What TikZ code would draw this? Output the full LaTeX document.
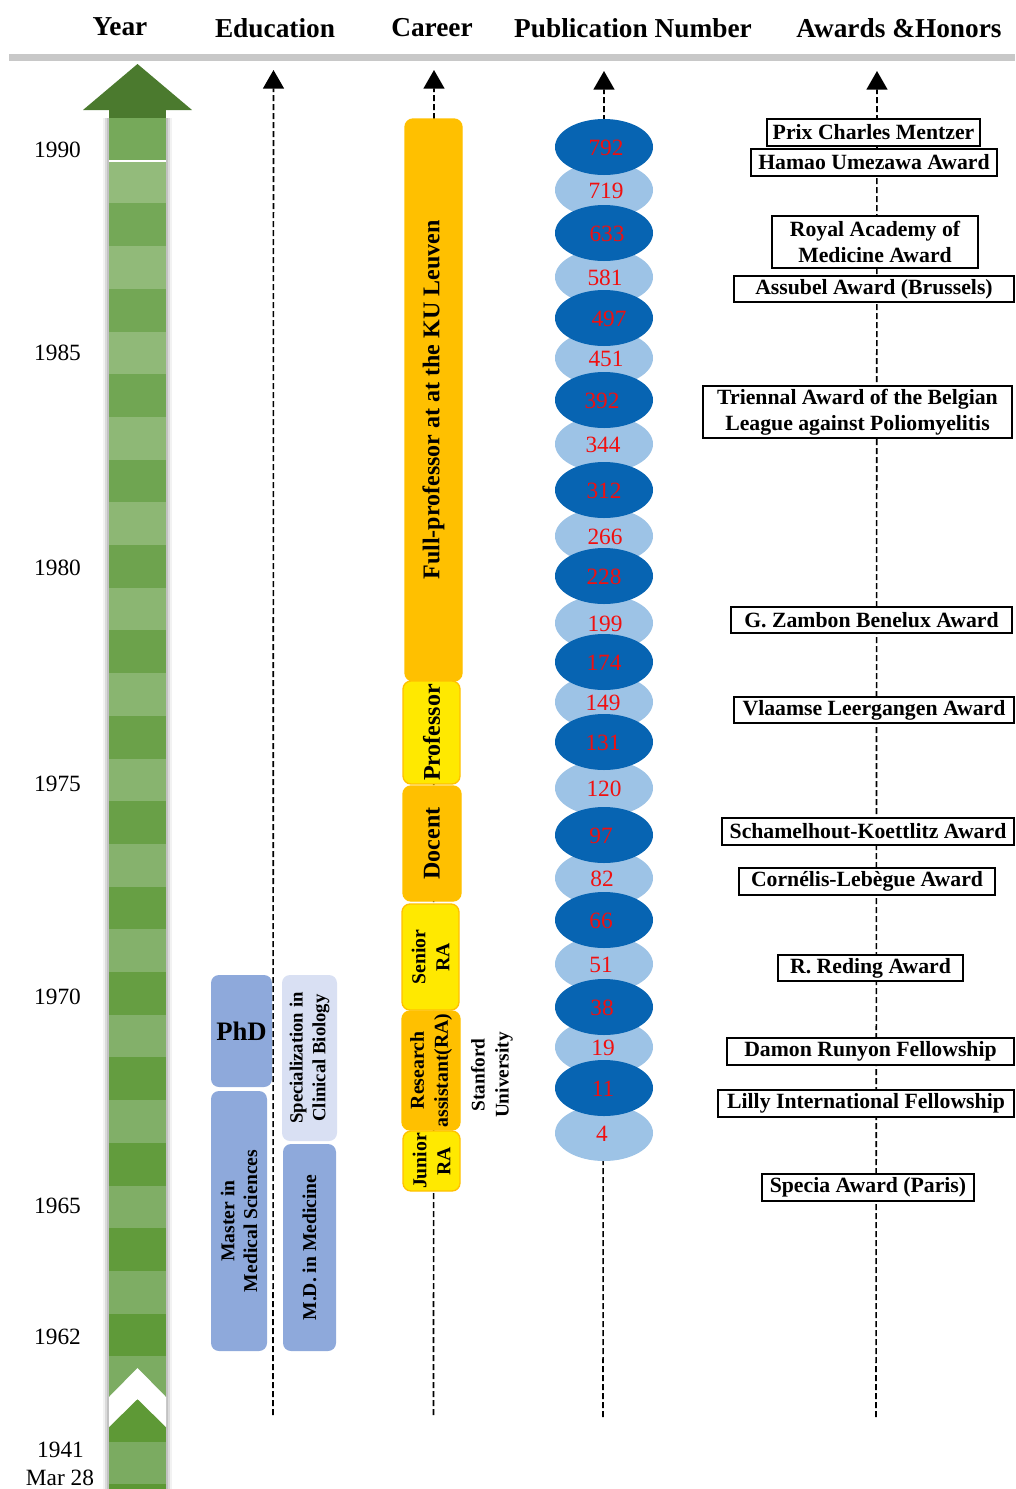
\documentclass[tikz,border=0pt]{standalone}
\usepackage{fontspec}
\setmainfont{Liberation Serif}
\usetikzlibrary{arrows.meta,shapes.geometric}
\definecolor{hdrgray}{HTML}{C8C8C8}
\definecolor{arrowgreen}{HTML}{4B7A2E}
\definecolor{dTop}{RGB}{118,169,90}
\definecolor{dBot}{RGB}{92,152,52}
\definecolor{lTop}{RGB}{148,188,124}
\definecolor{lBot}{RGB}{122,170,96}
\definecolor{eduBlue}{HTML}{8EA9DB}
\definecolor{eduLight}{HTML}{D9E0F3}
\definecolor{carOrange}{HTML}{FFC000}
\definecolor{carYellow}{HTML}{FFE900}
\definecolor{pubDark}{HTML}{0764B2}
\definecolor{pubLight}{HTML}{9DC3E6}
\definecolor{numRed}{HTML}{F01010}
\newcommand\placebox[7]{\node[#1, minimum width={(#5-#3)*0.75pt}, minimum height={(#6-#4)*0.75pt}] (#2) at ({(#3+#5)/2},{(#4+#6)/2}) {#7};}
\newcommand\placevbox[7]{\node[#1, rotate=90, minimum width={(#6-#4)*0.75pt}, minimum height={(#5-#3)*0.75pt}] (#2) at ({(#3+#5)/2},{(#4+#6)/2}) {#7};}
\begin{document}
\begin{tikzpicture}[x=0.75pt,y=-0.75pt,
  hdr/.style={font=\bfseries\fontsize{20.5}{24}\selectfont, inner sep=0pt},
  yr/.style={font=\fontsize{17.5}{20}\selectfont, inner sep=0pt},
  axisline/.style={line width=1.2pt, dash pattern=on 4.5pt off 2.25pt, -{Triangle[length=14pt,width=15.75pt]}},
  edu/.style={fill=eduBlue, rounded corners=6pt, inner sep=0pt, align=center, font=\bfseries\fontsize{14.7}{17}\selectfont},
  edul/.style={edu, fill=eduLight, font=\bfseries\fontsize{14}{17}\selectfont},
  caro/.style={fill=carOrange, draw=carOrange, line width=1pt, rounded corners=6pt, inner sep=0pt, align=center, font=\bfseries\fontsize{18}{20}\selectfont},
  cary/.style={caro, fill=carYellow},
  carsmall/.style={font=\bfseries\fontsize{14.8}{18}\selectfont},
  pubD/.style={ellipse, fill=pubDark, minimum width=98*0.75pt, minimum height=56*0.75pt, inner sep=0pt},
  pubL/.style={pubD, fill=pubLight},
  publab/.style={text=numRed, font=\fontsize{17.5}{20}\selectfont, inner sep=0pt},
  award/.style={draw=black, line width=1.1pt, fill=white, inner sep=0pt, align=center, font=\bfseries\fontsize{16.3}{19.5}\selectfont}
]
\useasboundingbox (0,0) rectangle (1015,1489);

% headers
\node[hdr] (hYear) at (120,27) {Year};
\node[hdr] (hEdu) at (275,28) {Education};
\node[hdr] (hCar) at (432,28) {Career};
\node[hdr] (hPub) at (633,28) {Publication Number};
\node[hdr] (hAw) at (899,28) {Awards \&Honors};
\coordinate (lineL) at (9,57);
\coordinate (lineR) at (1015,57);
\draw[hdrgray, line width=5.25pt] (lineL) -- (lineR);

% green year bar
\fill[black!5] (103,118) rectangle (172,1489);
\fill[black!14] (105,118) rectangle (170,1489);
\fill[black!24] (107,118) rectangle (168,1489);
\foreach \k in {0,...,32}{
  \pgfmathsetmacro\ya{118+42.7*\k}
  \pgfmathsetmacro\yb{min(118+42.7*(\k+1),1489)}
  \pgfmathtruncatemacro\pc{100-100*\k/32}
  \pgfmathtruncatemacro\ev{mod(\k,2)}
  \ifnum\ev=0 \colorlet{sc}{dTop!\pc!dBot}\else\colorlet{sc}{lTop!\pc!lBot}\fi
  \fill[sc] (109,\ya) rectangle (166,\yb);
}
\draw[white, line width=1.5pt] (109,160.7) -- (166,160.7);
\fill[arrowgreen] (83,110) -- (137.5,64) -- (192,110) -- cycle;
\fill[arrowgreen] (109,109) rectangle (166,118);
\fill[white] (109,1397) -- (137.5,1368) -- (166,1397) -- (166,1427) -- (137.5,1399) -- (109,1427) -- cycle;

% year labels
\node[yr] (y1990) at (57.5,150) {1990};
\node[yr] (y1985) at (57.5,353) {1985};
\node[yr] (y1980) at (57.5,568) {1980};
\node[yr] (y1975) at (57.5,784) {1975};
\node[yr] (y1970) at (57.5,997) {1970};
\node[yr] (y1965) at (57.5,1206) {1965};
\node[yr] (y1962) at (57.5,1337) {1962};
\node[yr] (y1941) at (60.5,1450) {1941};
\node[yr] (ymar) at (60,1478) {Mar 28};

% axes
\coordinate (eduB) at (273,1415); \coordinate (eduT) at (273.5,70);
\coordinate (carB) at (433.5,1415); \coordinate (carT) at (434,70);
\coordinate (pubB) at (603,1417); \coordinate (pubT) at (604,71);
\coordinate (awB) at (876,1417); \coordinate (awT) at (877,71);
\draw[axisline] (eduB) -- (eduT);
\draw[axisline] (carB) -- (carT);
\draw[axisline] (pubB) -- (pubT);
\draw[axisline] (awB) -- (awT);

% education
\placebox{edu}{phd}{211}{975}{272}{1087}{\fontsize{20}{24}\selectfont PhD}
\placevbox{edu}{msc}{211}{1091}{267}{1351}{Master in\\Medical Sciences}
\placevbox{edul}{spec}{282}{975}{337}{1141}{Specialization in\\Clinical Biology}
\placevbox{edu}{md}{283}{1144}{336}{1351}{M.D. in Medicine}

% career
\placevbox{caro}{fullprof}{405}{119}{462}{681}{Full-professor at at the KU Leuven}
\placevbox{cary}{prof}{403}{681}{460}{784}{Professor}
\placevbox{caro}{docent}{403}{786}{461}{901}{Docent}
\placevbox{cary,carsmall}{senior}{402}{904}{459}{1010}{Senior\\RA}
\placevbox{caro,carsmall}{resas}{402}{1011}{460}{1130}{Research\\assistant(RA)}
\placevbox{cary,carsmall}{junior}{403}{1131}{460}{1191}{Junior\\RA}
\node[rotate=90, align=center, inner sep=0pt, font=\bfseries\fontsize{14.5}{18}\selectfont] (stanford) at (492,1075) {Stanford\\University};

% publications
\foreach \y/\tx/\n [count=\i] in {190/606/719, 277/605/581, 358/606/451, 444/603/344, 536/605/266, 623/605/199, 702/603/149, 788/604/120, 878/602/82, 964/601/51, 1047/603/19, 1133/602/4}{
  \node[pubL] (pl\i) at (604,\y) {};
}
\foreach \y/\tx/\n [count=\i] in {147/606/792, 233/607/633, 318/609/497, 400/602/392, 490/604/312, 576/604/228, 662/604/174, 742/603/131, 835/601/97, 920/601/66, 1007/602/38, 1088/603/11}{
  \node[pubD] (pd\i) at (604,\y) {};
}
\foreach \y/\tx/\n [count=\i] in {190/606/719, 277/605/581, 358/606/451, 444/603/344, 536/605/266, 623/605/199, 702/603/149, 788/604/120, 878/602/82, 964/601/51, 1047/603/19, 1133/602/4}{
  \node[publab] (tl\i) at (\tx,\y+1) {\n};
}
\foreach \y/\tx/\n [count=\i] in {147/606/792, 233/607/633, 318/609/497, 400/602/392, 490/604/312, 576/604/228, 662/604/174, 742/603/131, 835/601/97, 920/601/66, 1007/602/38, 1088/603/11}{
  \node[publab] (td\i) at (\tx,\y+1) {\n};
}

% awards
\placebox{award}{a1}{767}{119}{980}{146}{Prix Charles Mentzer}
\placebox{award}{a2}{751}{149}{997}{176}{Hamao Umezawa Award}
\placebox{award}{a3}{772}{216}{978}{268}{Royal Academy of\\Medicine Award}
\placebox{award}{a4}{734}{276}{1014}{302}{Assubel Award (Brussels)}
\placebox{award}{a5}{703}{386}{1012}{438}{Triennal Award of the Belgian\\League against Poliomyelitis}
\placebox{award}{a6}{731}{607}{1012}{633}{G. Zambon Benelux Award}
\placebox{award}{a7}{734}{697}{1014}{723}{Vlaamse Leergangen Award}
\placebox{award}{a8}{722}{818}{1014}{845}{Schamelhout-Koettlitz Award}
\placebox{award}{a9}{739}{868}{995}{895}{Cornélis-Lebègue Award}
\placebox{award}{a10}{778}{955}{963}{981}{R. Reding Award}
\placebox{award}{a11}{727}{1038}{1014}{1065}{Damon Runyon Fellowship}
\placebox{award}{a12}{718}{1090}{1014}{1117}{Lilly International Fellowship}
\placebox{award}{a13}{762}{1174}{974}{1201}{Specia Award (Paris)}
\end{tikzpicture}
\end{document}
